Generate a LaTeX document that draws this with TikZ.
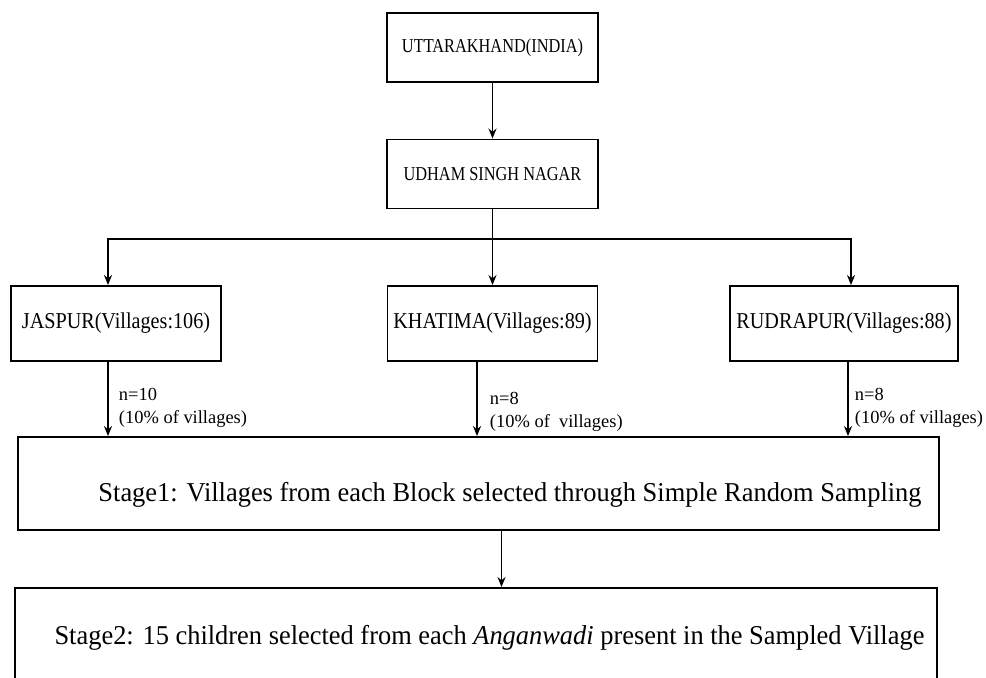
\documentclass[tikz,border=0pt]{standalone}
\usepackage{fontspec}
\setmainfont{Liberation Serif}
\newfontfamily\stagefont{Liberation Serif}[FakeStretch=0.97]
\newfontfamily\blockfont{Liberation Serif}[FakeStretch=0.89]
\newfontfamily\regionfont{Liberation Serif}[FakeStretch=0.83]
\usepackage{tikz}
\usetikzlibrary{arrows.meta, positioning, calc}

\begin{document}
\begin{tikzpicture}[
    x=0.02cm, y=-0.02cm,
    box/.style={rectangle, draw=black, line width=1.1pt, fill=white,
                minimum height=1.38cm, align=center, inner sep=2pt},
    region/.style={box, minimum width=4.22cm, font=\regionfont\fontsize{11.2}{13}\selectfont},
    block/.style={box, minimum height=1.5cm, font=\blockfont\fontsize{12.9}{15}\selectfont},
    stagebox/.style={box, font=\stagefont\fontsize{15.5}{18}\selectfont},
    lbl/.style={anchor=west, align=left, inner sep=0pt, font=\fontsize{10.5}{13.2}\selectfont},
    arrow/.style={-{Stealth[length=2mm, width=1.6mm]}, line width=1.1pt},
]
\useasboundingbox (0,0) rectangle (986,677);
\clip (0,0) rectangle (986,677);
% state and district
\node[region] (state) at (492.5,47.5) {UTTARAKHAND(INDIA)};
\node[region] (district) at (492.5,174) {UDHAM SINGH NAGAR};
% blocks
\node[block, minimum width=4.2cm] (jaspur) at (116,323.5) {JASPUR(Villages:106)};
\node[block, minimum width=4.2cm] (khatima) at (492.5,323.5) {KHATIMA(Villages:89)};
\node[block, minimum width=4.56cm] (rudrapur) at (844,323.5) {RUDRAPUR(Villages:88)};
% stages
\node[stagebox, minimum width=18.42cm, minimum height=1.86cm, text height=0.82cm] (stageone) at (478.5,483.5)
    {\hspace*{1.26cm}Stage1: Villages from each Block selected through Simple Random Sampling};
\node[stagebox, minimum width=18.44cm, minimum height=2cm] (stagetwo) at (476,638)
    {\hspace*{0.54cm}Stage2: 15 children selected from each \textit{Anganwadi} present in the Sampled Village};
\coordinate (split) at (492.5,239);
\draw[arrow] (state) -- (district);
\draw[arrow] (district) -- (khatima);
\draw[arrow] (split) -| ([xshift=-0.16cm]jaspur.north);
\draw[arrow] (split) -| ([xshift=0.14cm]rudrapur.north);
\draw[arrow] ([xshift=-0.16cm]jaspur.south) -- ([xshift=-0.16cm]jaspur.south |- stageone.north)
    node[lbl, pos=0.62, xshift=0.2cm] (nj) {n=10\\(10\% of villages)};
\draw[arrow] ([xshift=-0.31cm]khatima.south) -- ([xshift=-0.31cm]khatima.south |- stageone.north)
    node[lbl, pos=0.67, xshift=0.24cm] (nk) {n=8\\(10\% of \ villages)};
\draw[arrow] ([xshift=0.08cm]rudrapur.south) -- ([xshift=0.08cm]rudrapur.south |- stageone.north)
    node[lbl, pos=0.62, xshift=0.12cm] (nr) {n=8\\(10\% of villages)};
\draw[arrow] ([xshift=0.46cm]stageone.south) -- ([xshift=0.46cm]stageone.south |- stagetwo.north);
\end{tikzpicture}
\end{document}
